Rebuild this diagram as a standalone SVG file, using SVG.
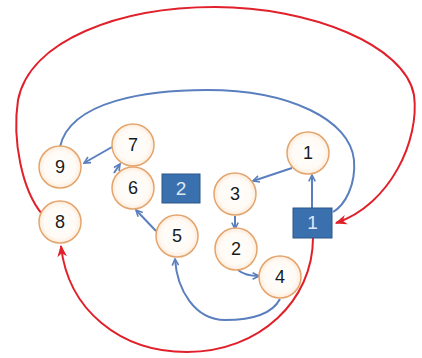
<svg xmlns="http://www.w3.org/2000/svg" width="422" height="358" viewBox="0 0 422 358">
<style>
.n circle{fill:url(#g);stroke:#e3a56e;stroke-width:1.5}
.n text{font-family:"Liberation Sans",Arial,sans-serif;font-size:18px;fill:#1a1a1a;text-anchor:middle}
.r rect{fill:#3b70ae;stroke:#2c5789;stroke-width:1}
.r text{font-family:"Liberation Sans",Arial,sans-serif;font-size:19px;fill:#dde8f5;text-anchor:middle}
.b{fill:none;stroke:#5a7fbe;stroke-width:2}
.rd{fill:none;stroke:#e0202a;stroke-width:2}
</style>
<defs>
<radialGradient id="g" cx="50%" cy="50%" r="55%">
<stop offset="0" stop-color="#ffffff"/><stop offset="0.7" stop-color="#fffaf4"/><stop offset="1" stop-color="#fde3cc"/>
</radialGradient>
<marker id="ab" viewBox="0 0 10 10" refX="9" refY="5" markerWidth="8" markerHeight="8" orient="auto" markerUnits="userSpaceOnUse">
<path d="M1,1 L9,5 L1,9" fill="none" stroke="#5a7fbe" stroke-width="2"/>
</marker>
<marker id="ar" viewBox="0 0 10 10" refX="9" refY="5" markerWidth="12" markerHeight="12" orient="auto" markerUnits="userSpaceOnUse">
<path d="M0,1 L10,5 L0,9 L3,5 Z" fill="#e0202a"/>
</marker>
</defs>
<g id="connectors">
<path class="rd" d="M42,214 C22,190 12,140 18,100 C30,40 120,7 215,7 C310,7 405,45 414,95 C420,140 390,205 336,223" marker-end="url(#ar)"/>
<path class="rd" d="M313,238 C313,300 260,352 187,352 C120,352 68,310 61,246" marker-end="url(#ar)"/>
<path class="b" d="M60,147 C70,100 150,90 207,90 C290,90 350,120 354,160 C356,185 345,205 333,212"/>
<path class="b" d="M112,147 L84,163" marker-end="url(#ab)"/>
<path class="b" d="M114,173 L120,164" marker-end="url(#ab)"/>
<path class="b" d="M156,231 L136,210" marker-end="url(#ab)"/>
<path class="b" d="M292,168 L253,181" marker-end="url(#ab)"/>
<path class="b" d="M235,216 L235,229" marker-end="url(#ab)"/>
<path class="b" d="M238,270 C244,275 250,276 259,276" marker-end="url(#ab)"/>
<path class="b" d="M312,208 L312,175" marker-end="url(#ab)"/>
<path class="b" d="M280,299 C270,318 240,320 225,320 C195,320 177,290 175,259" marker-end="url(#ab)"/>
</g>
<g id="n9" class="n"><circle cx="60" cy="167" r="21"/><text x="60" y="173">9</text></g>
<g id="n7" class="n"><circle cx="133" cy="145" r="21"/><text x="133" y="151">7</text></g>
<g id="n6" class="n"><circle cx="133" cy="188" r="21"/><text x="133" y="194">6</text></g>
<g id="n8" class="n"><circle cx="60" cy="222" r="21"/><text x="60" y="228">8</text></g>
<g id="n5" class="n"><circle cx="177" cy="236" r="21"/><text x="177" y="242">5</text></g>
<g id="n1" class="n"><circle cx="308" cy="153" r="21"/><text x="308" y="159">1</text></g>
<g id="n3" class="n"><circle cx="235" cy="194" r="21"/><text x="235" y="200">3</text></g>
<g id="n2" class="n"><circle cx="236" cy="249" r="21"/><text x="236" y="255">2</text></g>
<g id="n4" class="n"><circle cx="280" cy="277" r="21"/><text x="280" y="283">4</text></g>
<g id="r2" class="r"><rect x="162" y="174" width="38" height="29"/><text x="181" y="195">2</text></g>
<g id="r1" class="r"><rect x="293" y="208" width="39" height="30"/><text x="312.5" y="229">1</text></g>
</svg>
